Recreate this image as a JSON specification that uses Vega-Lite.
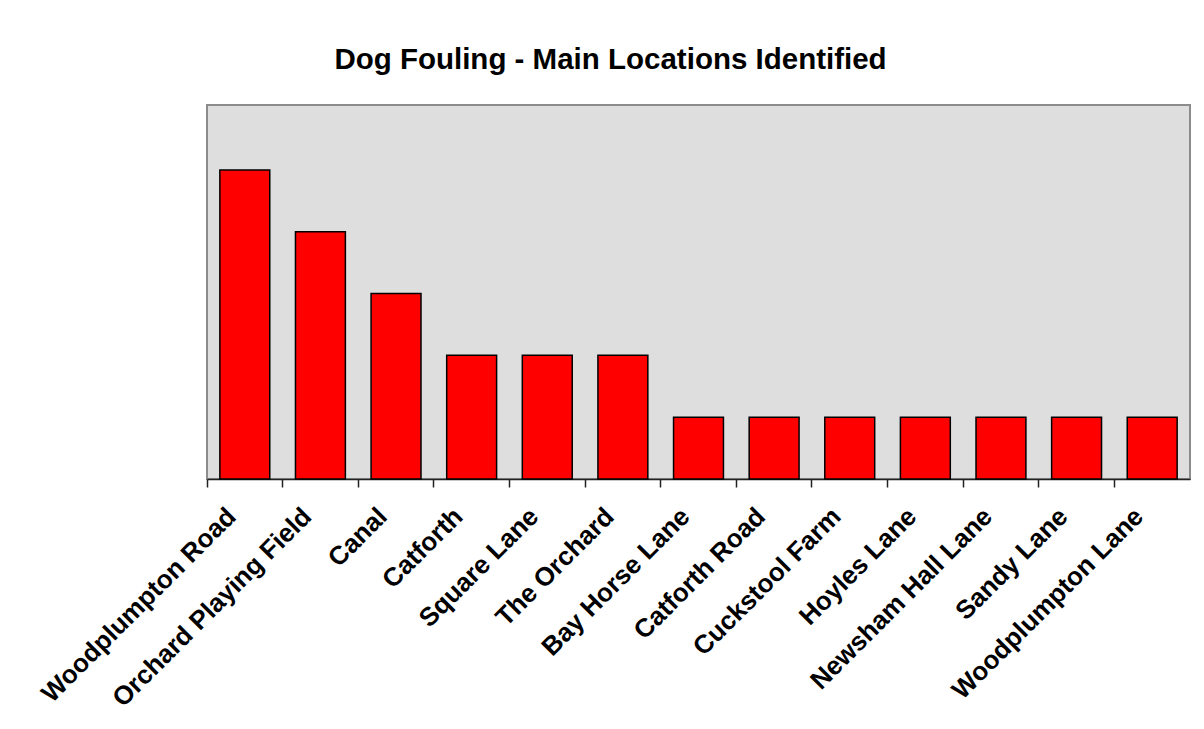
{
  "$schema": "https://vega.github.io/schema/vega-lite/v6.json",
  "autosize": "none",
  "width": 983,
  "height": 374,
  "padding": {"left": 207, "top": 105, "right": 14, "bottom": 250},
  "background": "white",
  "title": {
    "text": "Dog Fouling - Main Locations Identified",
    "font": "Liberation Sans",
    "fontSize": 29.5,
    "fontWeight": "bold",
    "color": "black",
    "anchor": "middle",
    "frame": "group",
    "dx": -88,
    "baseline": "alphabetic",
    "offset": 7
  },
  "data": {
    "values": [
      {"location": "Woodplumpton Road", "count": 5},
      {"location": "Orchard Playing Field", "count": 4},
      {"location": "Canal", "count": 3},
      {"location": "Catforth", "count": 2},
      {"location": "Square Lane", "count": 2},
      {"location": "The Orchard", "count": 2},
      {"location": "Bay Horse Lane", "count": 1},
      {"location": "Catforth Road", "count": 1},
      {"location": "Cuckstool Farm", "count": 1},
      {"location": "Hoyles Lane", "count": 1},
      {"location": "Newsham Hall Lane", "count": 1},
      {"location": "Sandy Lane", "count": 1},
      {"location": "Woodplumpton Lane", "count": 1}
    ]
  },
  "mark": {"type": "bar", "width": {"band": 0.66}, "fill": "#ff0000", "stroke": "black", "strokeWidth": 1.5},
  "encoding": {
    "x": {
      "field": "location",
      "type": "nominal",
      "sort": null,
      "scale": {"paddingInner": 0, "paddingOuter": 0},
      "axis": {
        "title": null,
        "bandPosition": 0,
        "labelAngle": -45,
        "labelAlign": "right",
        "labelBaseline": "middle",
        "labelFont": "Liberation Sans",
        "labelFontSize": 26,
        "labelFontWeight": "bold",
        "labelColor": "black",
        "labelLimit": 0,
        "labelOverlap": false,
        "labelPadding": 25,
        "labelOffset": -13,
        "tickSize": 8,
        "tickColor": "#222222",
        "tickWidth": 1.5,
        "domainColor": "#222222",
        "domainWidth": 1.5,
        "grid": false
      }
    },
    "y": {
      "field": "count",
      "type": "quantitative",
      "scale": {"domain": [0, 6.05], "nice": false},
      "axis": null
    }
  },
  "config": {
    "view": {"fill": "#dedede", "stroke": "#8c8c8c", "strokeWidth": 2}
  }
}
